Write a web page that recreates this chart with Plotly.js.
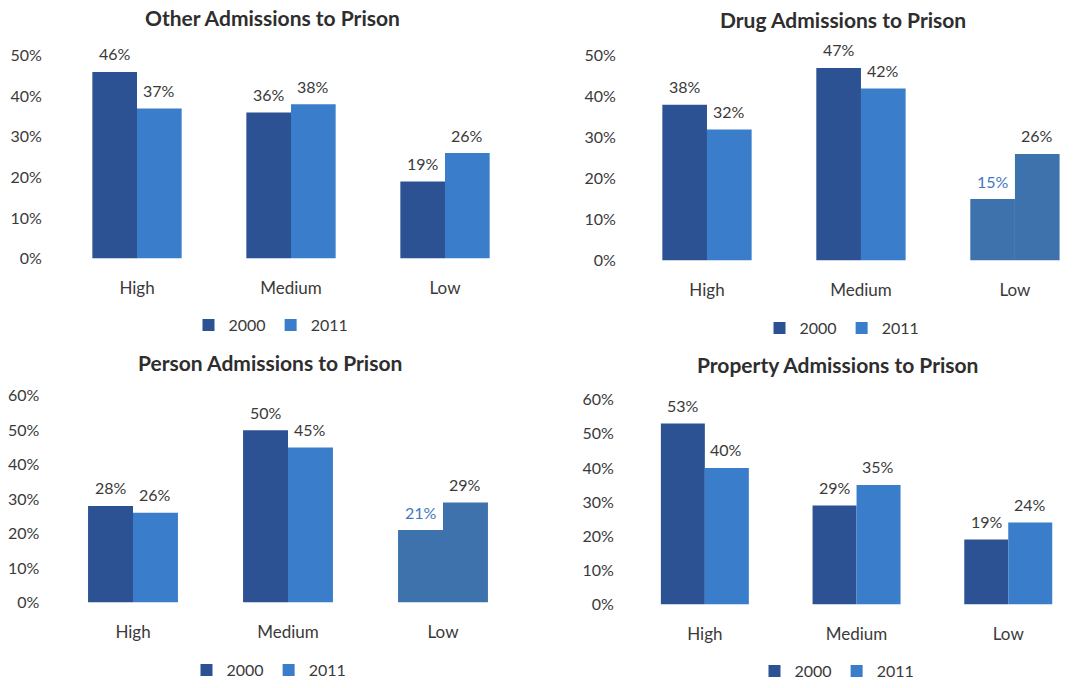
<!DOCTYPE html>
<html>
<head>
<meta charset="utf-8">
<script src="https://cdn.plot.ly/plotly-3.0.1.min.js"></script>
<style>html,body{margin:0;padding:0;background:#fff;}#chart{width:1075px;height:688px;}</style>
</head>
<body>
<div id="chart"></div>
<script>
// ---- Data ----
const categories = ['High', 'Medium', 'Low'];
const seriesNames = ['2000', '2011'];

const otherValues2000 = [46, 36, 19];
const otherValues2011 = [37, 38, 26];

const drugValues2000 = [38, 47, 15];
const drugValues2011 = [32, 42, 26];

const personValues2000 = [28, 50, 21];
const personValues2011 = [26, 45, 29];

const propertyValues2000 = [53, 29, 19];
const propertyValues2011 = [40, 35, 24];

const panelTitles = [
  'Other Admissions to Prison',
  'Drug Admissions to Prison',
  'Person Admissions to Prison',
  'Property Admissions to Prison'
];
const yTickValuesA = [0, 10, 20, 30, 40, 50];
const yTickValuesB = [0, 10, 20, 30, 40, 50, 60];

// ---- Styles / layout geometry (pixels on a 1075x688 page) ----
const W = 1075, H = 688;
const FONT = 'Lato, "Liberation Sans", sans-serif';
const C2000 = '#2d5293';
const C2011 = '#3a7dca';
const CLOW = '#3e72ad';
const TXT = '#3a3a3a';

const panels = [
  { v0: otherValues2000, v1: otherValues2011, ticks: yTickValuesA,
    x0: 60, x1: 522, xr: [-0.5, 2.5], yTop: 56, yBot: 260, ticklen: 14,
    title: [272, 18], legend: [271, 327], shift: 22, lowSame: false },
  { v0: drugValues2000, v1: drugValues2011, ticks: yTickValuesA,
    x0: 630, x1: 1075, xr: [-0.5, 2.39], yTop: 56, yBot: 262, ticklen: 10,
    title: [843, 20], legend: [842, 330], shift: 22, lowSame: true },
  { v0: personValues2000, v1: personValues2011, ticks: yTickValuesB,
    x0: 55.5, x1: 520.5, xr: [-0.5, 2.5], yTop: 398, yBot: 606, ticklen: 12,
    title: [270, 365], legend: [269, 674], shift: 22, lowSame: true },
  { v0: propertyValues2000, v1: propertyValues2011, ticks: yTickValuesB,
    x0: 629, x1: 1075, xr: [-0.5, 2.44], yTop: 402, yBot: 608, ticklen: 11,
    title: [837, 367], legend: [837, 675], shift: 21.5, lowSame: false }
];

const data = [];
const annotations = [];
const layout = {
  width: W, height: H,
  margin: { l: 0, r: 0, t: 0, b: 0 },
  paper_bgcolor: '#ffffff', plot_bgcolor: '#ffffff',
  font: { family: FONT, color: TXT, size: 16 },
  barmode: 'group', bargap: 0.42, bargroupgap: 0,
  showlegend: true,
  annotations: annotations
};

panels.forEach((p, i) => {
  const n = i + 1;
  const xa = 'x' + (n === 1 ? '' : n), ya = 'y' + (n === 1 ? '' : n);
  const legendId = 'legend' + (n === 1 ? '' : n);
  const colors0 = categories.map((c, k) => (p.lowSame && k === 2) ? CLOW : C2000);
  const colors1 = categories.map((c, k) => (p.lowSame && k === 2) ? CLOW : C2011);

  data.push({
    type: 'bar', name: seriesNames[0], x: categories, y: p.v0,
    xaxis: xa, yaxis: ya, legend: legendId,
    marker: { color: colors0, line: { width: 0 } }, hoverinfo: 'skip'
  });
  data.push({
    type: 'bar', name: seriesNames[1], x: categories, y: p.v1,
    xaxis: xa, yaxis: ya, legend: legendId,
    marker: { color: colors1, line: { width: 0 } }, hoverinfo: 'skip'
  });

  const ymax = p.ticks[p.ticks.length - 1];
  layout['xaxis' + (n === 1 ? '' : n)] = {
    domain: [p.x0 / W, p.x1 / W], anchor: ya, type: 'category',
    range: p.xr, showgrid: false, zeroline: false, showline: false,
    ticks: 'outside', ticklen: 14, tickcolor: 'rgba(0,0,0,0)',
    tickfont: { family: FONT, size: 17, color: TXT }, fixedrange: true
  };
  layout['yaxis' + (n === 1 ? '' : n)] = {
    domain: [1 - p.yBot / H, 1 - p.yTop / H], anchor: xa,
    range: [0, ymax], tickmode: 'array', tickvals: p.ticks,
    ticktext: p.ticks.map(v => v + '%'),
    showgrid: false, zeroline: false, showline: false,
    ticks: 'outside', ticklen: p.ticklen, tickcolor: 'rgba(0,0,0,0)',
    tickfont: { family: FONT, size: 16, color: TXT }, fixedrange: true
  };
  layout[legendId] = {
    orientation: 'h', x: p.legend[0] / W, xanchor: 'center',
    y: 1 - p.legend[1] / H, yanchor: 'middle',
    font: { family: FONT, size: 16, color: TXT },
    bgcolor: 'rgba(0,0,0,0)', itemwidth: 30, tracegroupgap: 0
  };

  annotations.push({
    xref: 'paper', yref: 'paper', x: p.title[0] / W, y: 1 - p.title[1] / H,
    xanchor: 'center', yanchor: 'middle', showarrow: false,
    text: '<b>' + panelTitles[i] + '</b>',
    font: { family: FONT, size: 21, color: '#2e2e2e' }
  });

  categories.forEach((c, k) => {
    annotations.push({
      xref: xa, yref: ya, x: c, y: p.v0[k], xshift: -p.shift, yshift: 18,
      xanchor: 'center', yanchor: 'middle', showarrow: false,
      text: p.v0[k] + '%', bgcolor: '#ffffff',
      font: { family: FONT, size: 16, color: (p.lowSame && k === 2) ? '#3f78c0' : TXT }
    });
    annotations.push({
      xref: xa, yref: ya, x: c, y: p.v1[k], xshift: p.shift, yshift: 18,
      xanchor: 'center', yanchor: 'middle', showarrow: false,
      text: p.v1[k] + '%', bgcolor: '#ffffff',
      font: { family: FONT, size: 16, color: TXT }
    });
  });
});

Plotly.newPlot('chart', data, layout, { staticPlot: true, displayModeBar: false });
</script>
</body>
</html>
